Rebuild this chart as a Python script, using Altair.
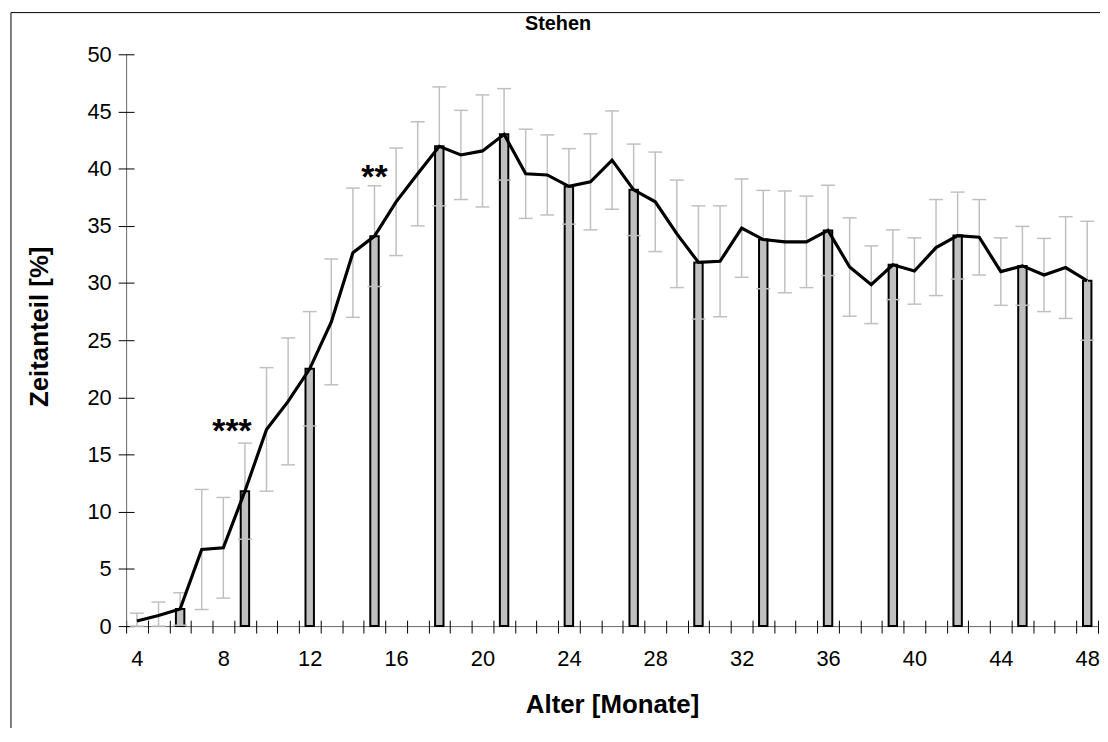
import altair as alt
import pandas as pd

# ---- data ----
months = list(range(4, 49))
mean_pct = [0.45, 0.93, 1.5, 6.7, 6.85, 11.8, 17.2, 19.65, 22.5, 26.6,
            32.65, 34.1, 37.1, 39.55, 41.95, 41.2, 41.55, 43.0, 39.55, 39.45,
            38.45, 38.85, 40.75, 38.15, 37.1, 34.3, 31.8, 31.9, 34.8, 33.8,
            33.6, 33.6, 34.6, 31.4, 29.85, 31.6, 31.05, 33.1, 34.15, 34.0,
            31.0, 31.5, 30.7, 31.35, 30.2]
err_pct = [0.68, 1.17, 1.42, 5.25, 4.4, 4.2, 5.4, 5.55, 5.0, 5.5,
           5.65, 4.4, 4.7, 4.55, 5.2, 3.9, 4.9, 4.0, 3.9, 3.5,
           3.3, 4.2, 4.3, 4.0, 4.35, 4.7, 4.95, 4.85, 4.3, 4.3,
           4.45, 4.0, 3.95, 4.3, 3.4, 3.05, 2.9, 4.2, 3.8, 3.3,
           2.95, 3.45, 3.2, 4.45, 5.2]
bar_months = list(range(6, 49, 3))
x_label_values = list(range(4, 49, 4))
x_tick_values = [m + 0.5 for m in range(3, 49)]
y_values = list(range(0, 51, 5))
ann_text = ["***", "**"]
ann_x = [8.4, 15.0]
ann_y = [16.1, 38.35]
chart_title = "Stehen"

FONT = "Liberation Sans"

df = pd.DataFrame({"month": months, "mean": mean_pct, "err": err_pct})
df["lo"] = (df["mean"] - df["err"]).clip(lower=0)
df["hi"] = df["mean"] + df["err"]
bars_df = df[df["month"].isin(bar_months)]
ann_df = pd.DataFrame({"text": ann_text, "x": ann_x, "y": ann_y})
one = pd.DataFrame({"k": [0]})
title_df = pd.DataFrame({"t": [chart_title]})

xs = alt.Scale(domain=[3.5, 48.5], nice=False, zero=False, padding=0)
ys = alt.Scale(domain=[0, 50], nice=False, padding=0)

axis_x_labels = alt.Axis(values=x_label_values, ticks=False, tickSize=0, domain=True,
                         domainColor="#666666", domainWidth=1, labelFont=FONT,
                         labelFontSize=22, labelColor="black", labelPadding=23,
                         labelFlush=False, labelOverlap=False, grid=False,
                         title="Alter [Monate]", titleFont=FONT, titleFontSize=26,
                         titleFontWeight="bold", titleColor="black",
                         titleY=79, titleBaseline="middle", orient="bottom")
axis_x_ticks = alt.Axis(values=x_tick_values, ticks=True, tickSize=13, tickColor="black",
                        tickWidth=1, domain=False, labels=False, grid=False, title=None,
                        offset=-6, orient="bottom")
axis_y_labels = alt.Axis(values=y_values, ticks=False, tickSize=0, domain=True,
                         domainColor="#666666", domainWidth=1, labelFont=FONT,
                         labelFontSize=22, labelColor="black", labelPadding=15,
                         grid=False, title="Zeitanteil [%]", titleFont=FONT,
                         titleFontSize=26, titleFontWeight="bold", titleColor="black",
                         titleX=-87, titleY=274, titleBaseline="middle",
                         titleAlign="center", titleAngle=270, orient="left")
axis_y_ticks = alt.Axis(values=y_values, ticks=True, tickSize=16, tickColor="black",
                        tickWidth=1, domain=False, labels=False, grid=False, title=None,
                        offset=-8, orient="left")

bars = alt.Chart(bars_df).mark_bar(size=8.5, fill="#c0c0c0", stroke="black",
                                   strokeWidth=2).encode(
    x=alt.X("month:Q", scale=xs, axis=axis_x_labels),
    y=alt.Y("mean:Q", scale=ys, axis=axis_y_labels),
)

err_rule = alt.Chart(df).mark_rule(color="#c0c0c0", strokeWidth=1.5).encode(
    x=alt.X("month:Q", scale=xs, axis=axis_x_ticks),
    y=alt.Y("lo:Q", scale=ys, axis=axis_y_ticks),
    y2="hi:Q",
)
caps_hi = alt.Chart(df).mark_tick(orient="horizontal", size=14, thickness=1.5,
                                  color="#c0c0c0", opacity=1).encode(
    x=alt.X("month:Q", scale=xs, axis=None),
    y=alt.Y("hi:Q", scale=ys, axis=None),
)
caps_lo = alt.Chart(df).mark_tick(orient="horizontal", size=14, thickness=1.5,
                                  color="#c0c0c0", opacity=1).encode(
    x=alt.X("month:Q", scale=xs, axis=None),
    y=alt.Y("lo:Q", scale=ys, axis=None),
)
line = alt.Chart(df).mark_line(color="black", strokeWidth=3.2).encode(
    x=alt.X("month:Q", scale=xs, axis=None),
    y=alt.Y("mean:Q", scale=ys, axis=None),
)
stars = alt.Chart(ann_df).mark_text(font=FONT, fontSize=34, fontWeight="bold",
                                    baseline="alphabetic", align="center",
                                    color="black").encode(
    x=alt.X("x:Q", scale=xs, axis=None),
    y=alt.Y("y:Q", scale=ys, axis=None),
    text="text:N",
)
title_txt = alt.Chart(title_df).mark_text(font=FONT, fontSize=20, fontWeight="bold",
                                          baseline="middle", align="center",
                                          color="black").encode(
    x=alt.value(435), y=alt.value(-30), text="t:N")
border_left = alt.Chart(one).mark_rule(color="black", strokeWidth=1).encode(
    x=alt.value(-116), y=alt.value(-42), y2=alt.value(700))
border_top = alt.Chart(one).mark_rule(color="black", strokeWidth=1).encode(
    x=alt.value(-116), x2=alt.value(1000), y=alt.value(-42))

chart = alt.layer(bars, err_rule, caps_hi, caps_lo, line, stars, title_txt,
                  border_left, border_top
).resolve_axis(x="independent", y="independent").properties(
    width=979, height=576,
    padding={"left": 119, "top": 44, "right": 2, "bottom": 100},
    autosize=alt.AutoSizeParams(type="none"),
).configure(
    background="white",
    view=alt.ViewConfig(stroke="transparent", strokeWidth=0),
    style={"cell": {"stroke": "transparent", "strokeWidth": 0}},
    axis=alt.AxisConfig(grid=False),
)

chart.save("out.html", embed_options={"renderer": "svg", "actions": False})
